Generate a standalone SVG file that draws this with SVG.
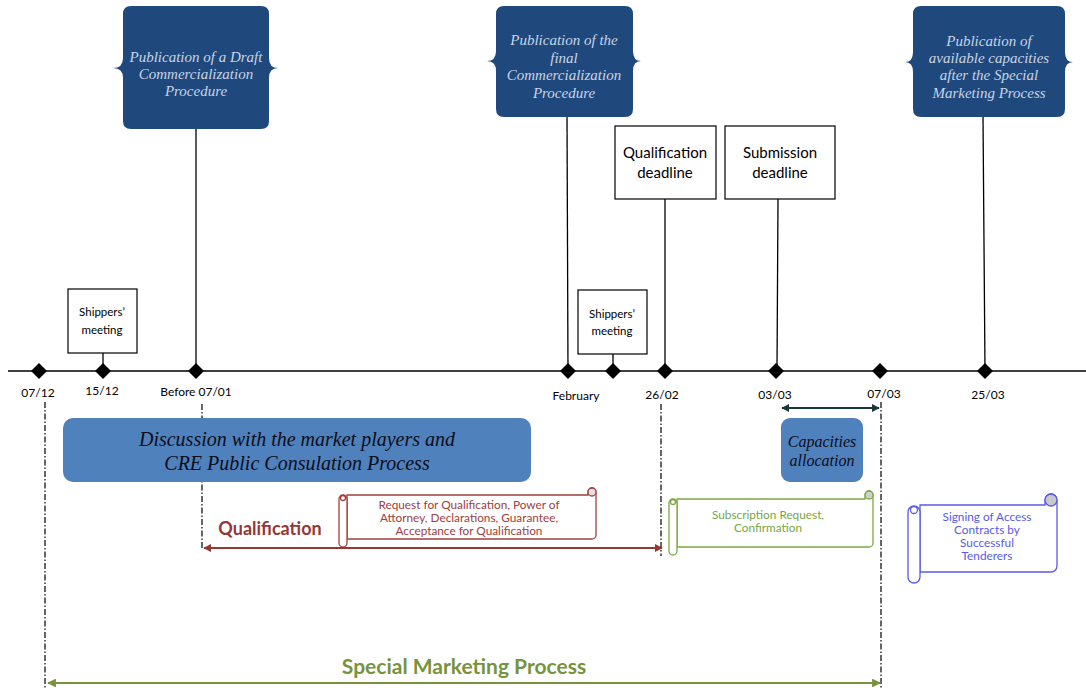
<svg xmlns="http://www.w3.org/2000/svg" width="1086" height="690" viewBox="0 0 1086 690">
<style>
.callout{fill:#1F497D;stroke:none}
.ctext{font-family:"Liberation Serif",serif;font-style:italic;font-size:15px;fill:#C8D4E6;text-anchor:middle}
.box{fill:#fff;stroke:#000;stroke-width:1.2}
.btext{font-family:Lato,"Liberation Sans",sans-serif;font-size:15px;fill:#000;text-anchor:middle}
.stext{font-family:Lato,"Liberation Sans",sans-serif;font-size:11.5px;fill:#000;text-anchor:middle}
.date{font-family:Lato,"Liberation Sans",sans-serif;font-size:12px;fill:#000;text-anchor:middle}
.line{stroke:#000;stroke-width:1.3;fill:none}
.dia{fill:#000}
.dd{stroke:#000;stroke-width:1.2;stroke-dasharray:6,2,1.5,2;fill:none}
.blue{fill:#4F81BD}
.itext{font-family:"Liberation Serif",serif;font-style:italic;fill:#0D0D1A;text-anchor:middle}
.sc{stroke:none;font-family:Lato,"Liberation Sans",sans-serif;font-size:11.8px;text-anchor:middle}
</style>
<defs>
<marker id="ar" viewBox="0 0 10 10" refX="9" refY="5" markerWidth="4" markerHeight="4" orient="auto-start-reverse"><path d="M0,0 L10,5 L0,10 z" fill="#953735"/></marker>
<marker id="ag" viewBox="0 0 10 10" refX="9" refY="5" markerWidth="4" markerHeight="4" orient="auto-start-reverse"><path d="M0,0 L10,5 L0,10 z" fill="#77933C"/></marker>
<marker id="at" viewBox="0 0 10 10" refX="9" refY="5" markerWidth="4" markerHeight="4" orient="auto-start-reverse"><path d="M0,0 L10,5 L0,10 z" fill="#17363F"/></marker>
<path id="dm" d="M0,-8 L8,0 L0,8 L-8,0 z"/>
</defs>

<g id="connectors">
<line class="line" x1="8" y1="371" x2="1086" y2="371"/>
<line class="line" x1="196" y1="129" x2="196" y2="371"/>
<line class="line" x1="567" y1="117" x2="568" y2="371"/>
<line class="line" x1="983" y1="117" x2="985" y2="371"/>
<line class="line" x1="103" y1="353" x2="103" y2="371"/>
<line class="line" x1="613" y1="354" x2="613" y2="371"/>
<line class="line" x1="665" y1="199" x2="665" y2="371"/>
<line class="line" x1="778" y1="199" x2="777" y2="371"/>
<line class="dd" x1="45" y1="402" x2="45" y2="688"/>
<line class="dd" x1="202" y1="404" x2="202" y2="548"/>
<line class="dd" x1="661" y1="404" x2="661" y2="556"/>
<line class="dd" x1="881" y1="402" x2="881" y2="688"/>
<line x1="204" y1="548" x2="662" y2="548" stroke="#953735" stroke-width="2" marker-start="url(#ar)" marker-end="url(#ar)"/>
<line x1="48" y1="683" x2="880" y2="683" stroke="#77933C" stroke-width="2.2" marker-start="url(#ag)" marker-end="url(#ag)"/>
<line x1="782" y1="408" x2="879" y2="408" stroke="#17363F" stroke-width="2" marker-start="url(#at)" marker-end="url(#at)"/>
</g>

<g id="diamonds">
<use href="#dm" x="39" y="371" class="dia"/>
<use href="#dm" x="103" y="371" class="dia"/>
<use href="#dm" x="196" y="371" class="dia"/>
<use href="#dm" x="568" y="371" class="dia"/>
<use href="#dm" x="613" y="371" class="dia"/>
<use href="#dm" x="665" y="371" class="dia"/>
<use href="#dm" x="776" y="371" class="dia"/>
<use href="#dm" x="880" y="371" class="dia"/>
<use href="#dm" x="985" y="371" class="dia"/>
</g>

<g id="dates">
<text class="date" x="38" y="397">07/12</text>
<text class="date" x="102" y="395">15/12</text>
<text class="date" x="196" y="396">Before 07/01</text>
<text class="date" x="576" y="400">February</text>
<text class="date" x="662" y="399">26/02</text>
<text class="date" x="775" y="399">03/03</text>
<text class="date" x="884" y="398">07/03</text>
<text class="date" x="988" y="399">25/03</text>
</g>

<g id="callout-draft">
<path class="callout" d="M131,6 H261 Q269,6 269,14 V58 Q269,68 278,68 Q269,68 269,78 V121 Q269,129 261,129 H131 Q123,129 123,121 V78 Q123,68 113,68 Q123,68 123,58 V14 Q123,6 131,6 Z"/>
<text class="ctext" x="196" y="62">Publication of a Draft</text>
<text class="ctext" x="196" y="79">Commercialization</text>
<text class="ctext" x="196" y="96">Procedure</text>
</g>

<g id="callout-final">
<path class="callout" d="M504,6 H625 Q633,6 633,14 V51 Q633,61 641,61 Q633,61 633,71 V109 Q633,117 625,117 H504 Q496,117 496,109 V71 Q496,61 487,61 Q496,61 496,51 V14 Q496,6 504,6 Z"/>
<text class="ctext" x="564" y="45">Publication of the</text>
<text class="ctext" x="564" y="63">final</text>
<text class="ctext" x="564" y="80">Commercialization</text>
<text class="ctext" x="564" y="98">Procedure</text>
</g>

<g id="callout-available">
<path class="callout" d="M921,6 H1057 Q1065,6 1065,14 V52 Q1065,62 1073,62 Q1065,62 1065,72 V109 Q1065,117 1057,117 H921 Q913,117 913,109 V72 Q913,62 905,62 Q913,62 913,52 V14 Q913,6 921,6 Z"/>
<text class="ctext" x="989" y="46">Publication of</text>
<text class="ctext" x="989" y="63">available capacities</text>
<text class="ctext" x="989" y="80">after the Special</text>
<text class="ctext" x="989" y="98">Marketing Process</text>
</g>

<g id="shippers-1">
<rect class="box" x="68" y="289" width="69" height="64"/>
<text class="stext" x="102" y="316">Shippers’</text>
<text class="stext" x="102" y="334">meeting</text>
</g>

<g id="shippers-2">
<rect class="box" x="578" y="290" width="69" height="64"/>
<text class="stext" x="612" y="318">Shippers’</text>
<text class="stext" x="612" y="335">meeting</text>
</g>

<g id="qualification-deadline">
<rect class="box" x="615" y="126" width="101" height="73"/>
<text class="btext" x="665" y="158">Qualification</text>
<text class="btext" x="665" y="178">deadline</text>
</g>

<g id="submission-deadline">
<rect class="box" x="725" y="126" width="110" height="73"/>
<text class="btext" x="780" y="158">Submission</text>
<text class="btext" x="780" y="178">deadline</text>
</g>

<g id="discussion">
<rect class="blue" x="63" y="418" width="468" height="64" rx="10"/>
<text class="itext" font-size="20" x="297" y="446">Discussion with the market players and</text>
<text class="itext" font-size="20" x="297" y="470">CRE Public Consulation Process</text>
</g>

<g id="capacities">
<rect class="blue" x="781" y="418" width="82" height="64" rx="9"/>
<text class="itext" font-size="16" x="822" y="447">Capacities</text>
<text class="itext" font-size="16" x="822" y="466">allocation</text>
</g>

<g id="qualification-label">
<text x="270" y="535" font-family="Lato,'Liberation Sans',sans-serif" font-weight="bold" font-size="18" fill="#953735" text-anchor="middle">Qualification</text>
</g>

<g id="scroll-red" stroke="#A0403E" stroke-width="1.3" fill="#fff">
<path d="M347,495 H588 V492 A4,4 0 0 1 596,492 V535 A4,4 0 0 1 592,539 H347 Z"/>
<path d="M339,499 A4,4 0 0 1 347,499 V543 A4,4 0 0 1 339,543 Z"/>
<circle cx="592" cy="492" r="4" fill="#e6dede"/>
<circle cx="343" cy="498" r="2.5"/>
<text class="sc" x="469" y="509" fill="#A0403E">Request for Qualification, Power of</text>
<text class="sc" x="469" y="522" fill="#A0403E">Attorney, Declarations, Guarantee,</text>
<text class="sc" x="469" y="535" fill="#A0403E">Acceptance for Qualification</text>
</g>

<g id="scroll-green" stroke="#7BA843" stroke-width="1.3" fill="#fff">
<path d="M677,499 H865 V495 A4,4 0 0 1 873,495 V543 A4,4 0 0 1 869,547 H677 Z"/>
<path d="M669,503 A4,4 0 0 1 677,503 V551 A4,4 0 0 1 669,551 Z"/>
<circle cx="869" cy="495" r="4" fill="#d0d0d0"/>
<circle cx="673" cy="502" r="2.5"/>
<text class="sc" x="768" y="519" fill="#77A743">Subscription Request,</text>
<text class="sc" x="768" y="532" fill="#77A743">Confirmation</text>
</g>

<g id="scroll-blue" stroke="#5A5AE6" stroke-width="1.3" fill="#fff">
<path d="M920,505 H1045 V500 A6,6 0 0 1 1057,500 V566 A6,6 0 0 1 1051,572 H920 Z"/>
<path d="M908,512 A6,6 0 0 1 920,512 V577 A6,6 0 0 1 908,577 Z"/>
<circle cx="1051" cy="500" r="6" fill="#c8c8cc"/>
<circle cx="914" cy="510" r="3.5"/>
<text class="sc" x="987" y="521" fill="#5A5AE6">Signing of Access</text>
<text class="sc" x="987" y="534" fill="#5A5AE6">Contracts by</text>
<text class="sc" x="987" y="547" fill="#5A5AE6">Successful</text>
<text class="sc" x="987" y="560" fill="#5A5AE6">Tenderers</text>
</g>

<g id="smp-label">
<text x="464" y="674" font-family="Lato,'Liberation Sans',sans-serif" font-weight="bold" font-size="21" fill="#77933C" text-anchor="middle">Special Marketing Process</text>
</g>
</svg>
